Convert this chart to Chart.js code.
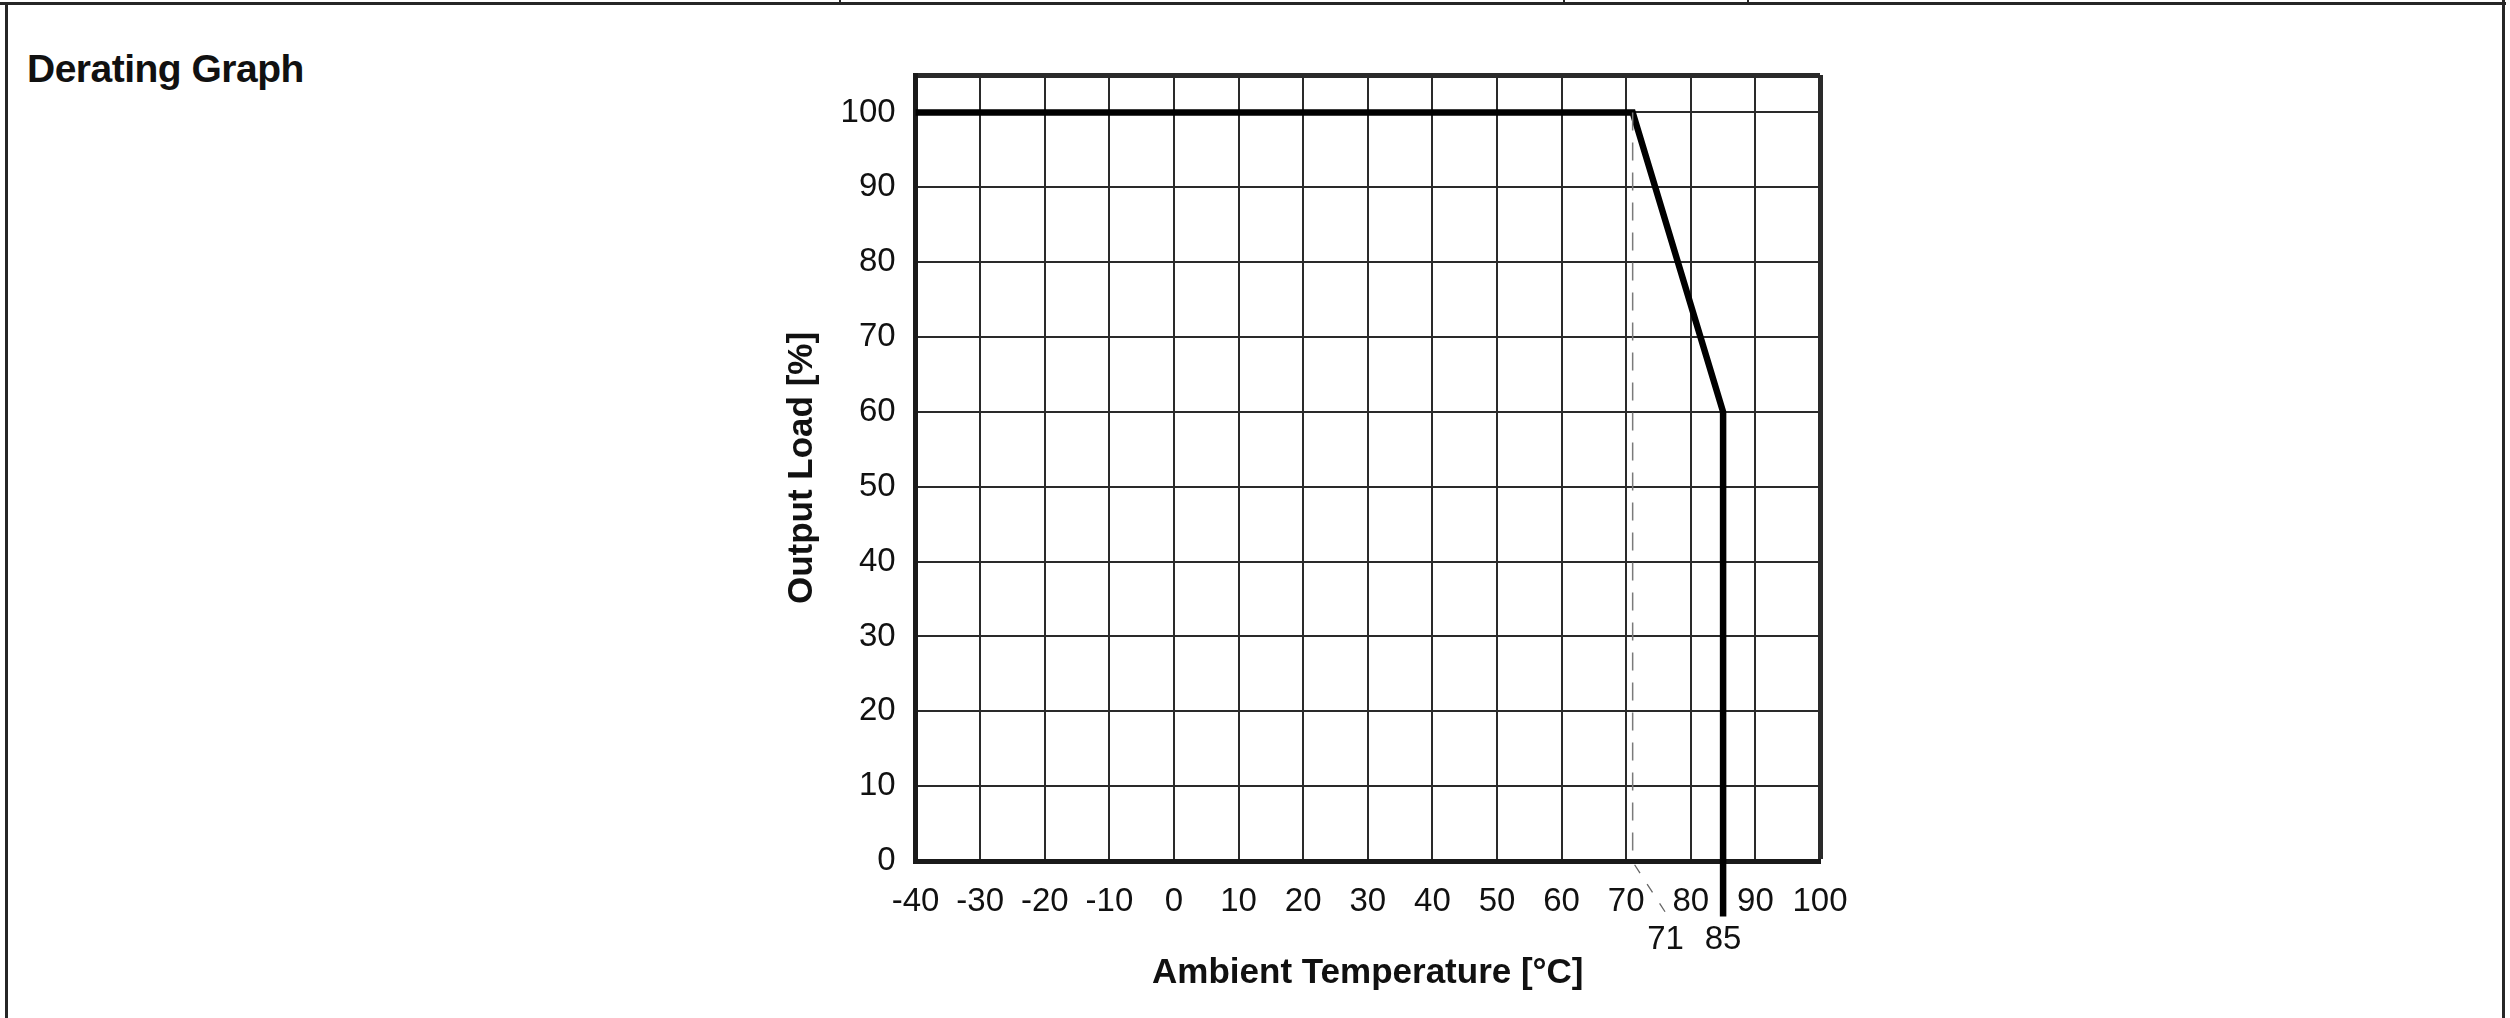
<!DOCTYPE html>
<html>
<head>
<meta charset="utf-8">
<title>Derating Graph</title>
<script src="https://cdn.jsdelivr.net/npm/chart.js@4/dist/chart.umd.min.js"></script>
<style>
    html, body { margin: 0; padding: 0; background: #fff; }
    body { width: 2510px; height: 1018px; position: relative; overflow: hidden; }
    .rule { position: absolute; background: #262626; }
    #heading {
        position: absolute; left: 27px; top: 49px;
        font-family: 'Liberation Sans', Arial, sans-serif;
        font-weight: bold; font-size: 39px; line-height: 1; color: #111;
        letter-spacing: -0.5px;
    }
    #chart { position: absolute; left: 0; top: 0; }
</style>
</head>
<body>
<!-- frame of the datasheet table -->
<div class="rule" style="left:0; top:2px; width:2506px; height:3px;"></div>
<div class="rule" style="left:5px; top:2px; width:3px; height:1016px;"></div>
<div class="rule" style="left:2502px; top:0; width:3px; height:1018px;"></div>
<div class="rule" style="left:839px; top:0; width:2px; height:4px;"></div>
<div class="rule" style="left:1563px; top:0; width:2px; height:4px;"></div>
<div class="rule" style="left:1747px; top:0; width:2px; height:4px;"></div>

<div id="heading">Derating Graph</div>
<canvas id="chart" width="2510" height="1018"></canvas>

<script>
// derating curve
var curveTemp = [-40, 71, 85, 85];
var curveLoad = [100, 100, 60, -7.4];

// dashed marker at 71 °C and the small leader down to its label
var markerTemp = [71, 71];
var markerLoad = [100, 0];
var leaderTemp = [71.3, 76.4];
var leaderLoad = [-0.5, -7.3];

// tick labels
var xTickLabels = [-40, -30, -20, -10, 0, 10, 20, 30, 40, 50, 60, 70, 80, 90, 100];
var yTickLabels = [0, 10, 20, 30, 40, 50, 60, 70, 80, 90, 100];
// second row under the axis: "71" sits to the right at the end of its leader
var extraLabelPos = [76.1, 85];
var extraLabelText = ['71', '85'];
var yTop = 105;

var face = "'Liberation Sans', Arial, sans-serif";

function points(xs, ys) {
    return xs.map(function (x, i) { return { x: x, y: ys[i] }; });
}

document.addEventListener("DOMContentLoaded", function () {
    new Chart(document.getElementById("chart"), {
        type: 'line',
        data: {
            datasets: [{
                data: points(markerTemp, markerLoad),
                borderColor: '#7a7a7a',
                borderWidth: 1.5,
                borderDash: [18, 12],
                pointRadius: 0,
                clip: false
            }, {
                data: points(leaderTemp, leaderLoad),
                borderColor: '#666',
                borderWidth: 1.3,
                borderDash: [10, 13],
                pointRadius: 0,
                clip: false
            }, {
                data: points(curveTemp, curveLoad),
                borderColor: '#000',
                borderWidth: 6.5,
                borderJoinStyle: 'miter',
                borderCapStyle: 'butt',
                pointRadius: 0,
                clip: false
            }]
        },
        options: {
            responsive: false,
            animation: false,
            layout: { padding: { left: 781, right: 690, top: 75, bottom: 24 } },
            plugins: {
                legend: { display: false },
                tooltip: { enabled: false }
            },
            scales: {
                x: {
                    type: 'linear',
                    position: 'bottom',
                    min: -40,
                    max: 100,
                    afterBuildTicks: function (scale) {
                        scale.ticks = xTickLabels.map(function (v) { return { value: v }; });
                    },
                    afterFit: function (scale) { scale.height = 59; },
                    grid: {
                        drawTicks: false,
                        color: '#2a2a2a',
                        lineWidth: function (ctx) { return ctx.tick && ctx.tick.value === 100 ? 5 : 2; }
                    },
                    border: { color: '#1a1a1a', width: 5 },
                    ticks: {
                        autoSkip: false,
                        maxRotation: 0,
                        padding: 21,
                        color: '#111',
                        font: { family: face, size: 33 }
                    }
                },
                x2: {
                    type: 'linear',
                    position: 'bottom',
                    min: -40,
                    max: 100,
                    afterBuildTicks: function (scale) {
                        scale.ticks = extraLabelPos.map(function (v) { return { value: v }; });
                    },
                    afterFit: function (scale) { scale.height = 74; },
                    grid: { display: false, drawTicks: false },
                    border: { display: false },
                    ticks: {
                        autoSkip: false,
                        maxRotation: 0,
                        padding: 0,
                        color: '#111',
                        font: { family: face, size: 33 },
                        callback: function (v, i) { return extraLabelText[i]; }
                    },
                    title: {
                        display: true,
                        text: 'Ambient Temperature [°C]',
                        color: '#111',
                        padding: 0,
                        font: { family: face, size: 35, weight: 'bold' }
                    }
                },
                y: {
                    type: 'linear',
                    min: 0,
                    max: yTop,
                    afterBuildTicks: function (scale) {
                        scale.ticks = yTickLabels.concat([yTop]).map(function (v) { return { value: v }; });
                    },
                    afterFit: function (scale) { scale.width = 134.6; },
                    grid: {
                        drawTicks: false,
                        color: '#2a2a2a',
                        lineWidth: function (ctx) { return ctx.tick && ctx.tick.value === yTop ? 5 : 2; }
                    },
                    border: { color: '#1a1a1a', width: 5 },
                    ticks: {
                        padding: 20,
                        color: '#111',
                        font: { family: face, size: 33 },
                        callback: function (v) { return v === yTop ? '' : v; }
                    },
                    title: {
                        display: true,
                        text: 'Output Load [%]',
                        color: '#111',
                        padding: 0,
                        font: { family: face, size: 35, weight: 'bold' }
                    }
                }
            }
        }
    });
});
</script>
</body>
</html>
